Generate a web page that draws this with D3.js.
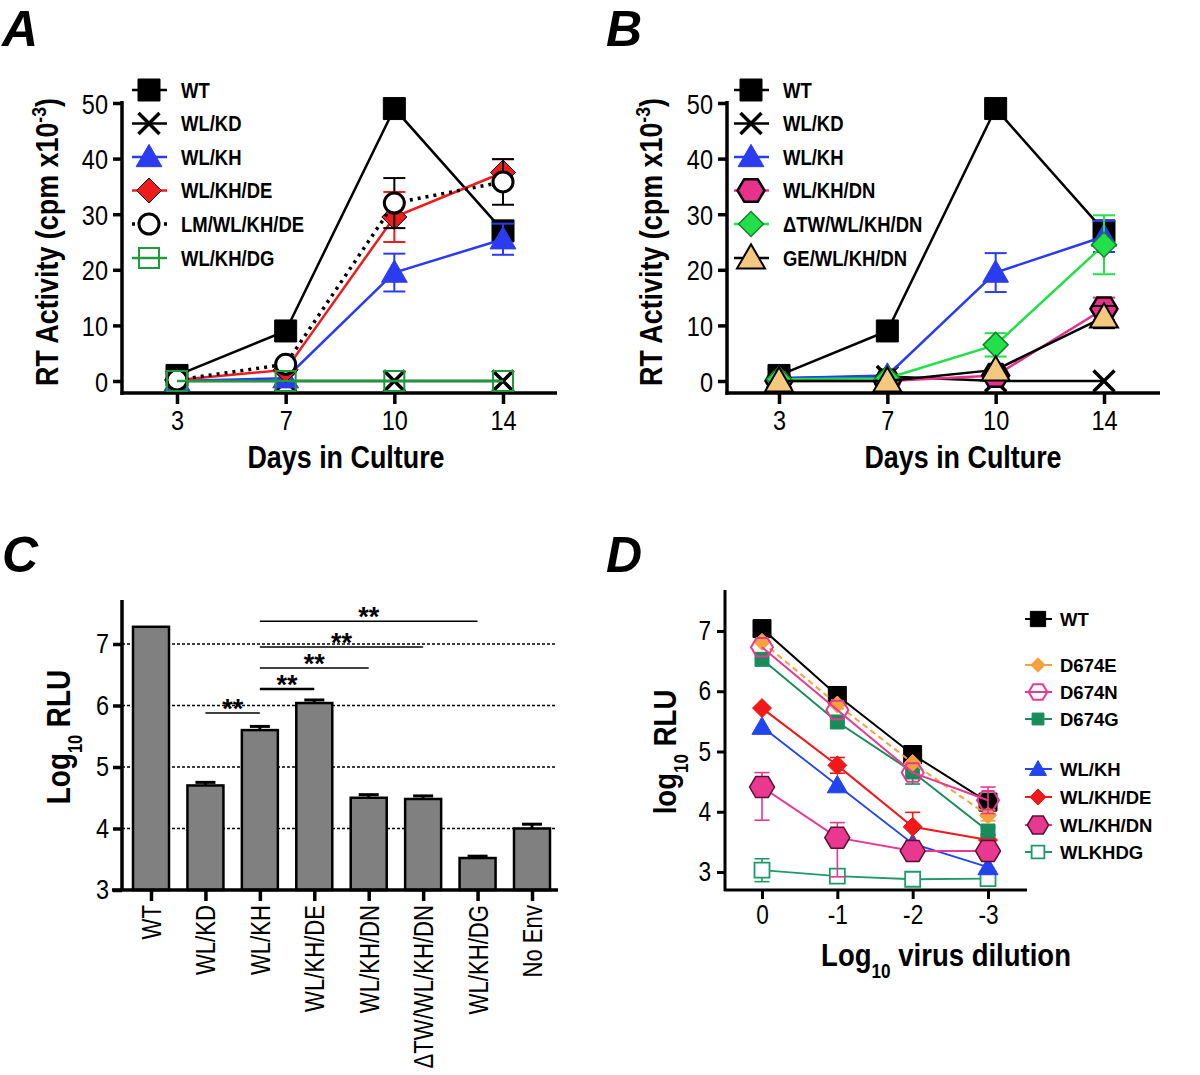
<!DOCTYPE html>
<html><head><meta charset="utf-8">
<script src="https://cdn.jsdelivr.net/npm/d3@7"></script>
<style>body{margin:0;background:#fff}</style>
</head><body>
<svg id="c" width="1200" height="1075" xmlns="http://www.w3.org/2000/svg"></svg>
<script>
// ---------- DATA ----------
// Panel A / B : RT activity (cpm x10^-3) vs days in culture
const days = ["3", "7", "10", "14"];
const aWT   = [1, 9, 49, 27];
const aWLKD = [0, 0, 0, 0];
const aWLKH = [0, 0.5, 19.5, 25.5];
const aWLKHerr = [0, 0, 3.4, 2.8];
const aDE   = [0.2, 2, 29.5, 37.5];
const aDEerr = [0, 0, 4.5, 2.4];
const aLM   = [0.2, 3, 32, 35.8];
const aLMerr = [0, 0, 4.5, 4.1];
const aDG   = [0, 0, 0, 0];

const bWT   = [1, 9, 49, 27];
const bWLKD = [0.5, 0.8, 0, 0];
const bWLKH = [0.5, 1, 19.5, 26];
const bWLKHerr = [0, 0, 3.5, 2.8];
const bDN   = [0, 0, 1, 13];
const bDNerr = [0, 0, 0, 2];
const bTW   = [0.3, 0.5, 6.5, 24.5];
const bTWerr = [0, 0, 2.1, 5.3];
const bGE   = [0, 0, 2, 11.5];
const bGEerr = [0, 0, 0, 2];

// Panel C : Log10 RLU bars
const cCats = ["WT", "WL/KD", "WL/KH", "WL/KH/DE", "WL/KH/DN", "\u0394TW/WL/KH/DN", "WL/KH/DG", "No Env"];
const cVals = [7.28, 4.70, 5.60, 6.04, 4.50, 4.48, 3.52, 4.00];
const cErrs = [0.0, 0.05, 0.06, 0.05, 0.05, 0.05, 0.03, 0.07];
const cYTicks = [3, 4, 5, 6, 7];
const cGrid = [4, 5, 6, 7];
// significance brackets: [from, to, level]
const cSig = [
  ["WL/KD", "WL/KH", 5.88],
  ["WL/KH", "WL/KH/DE", 6.27],
  ["WL/KH", "WL/KH/DN", 6.61],
  ["WL/KH", "\u0394TW/WL/KH/DN", 6.95],
  ["WL/KH", "WL/KH/DG", 7.37]
];

// Panel D : log10 RLU vs log10 virus dilution
const dil = ["0", "-1", "-2", "-3"];
const dWT  = [7.04, 5.93, 4.95, 4.16];
const dE   = [6.82, 5.78, 4.81, 3.94];
const dEerr = [0, 0, 0, 0.09];
const dN   = [6.73, 5.69, 4.65, 4.19];
const dNerr = [0, 0, 0, 0.22];
const dG   = [6.53, 5.49, 4.66, 3.68];
const dGerr = [0, 0, 0.2, 0.06];
const dKH  = [5.41, 4.44, 3.47, 3.08];
const dDE  = [5.72, 4.77, 3.75, 3.53];
const dDEerr = [0, 0.13, 0.24, 0.08];
const dDN  = [4.41, 3.57, 3.35, 3.35];
const dDNhi = [0.24, 0.25, 0.1, 0];
const dDNlo = [0.55, 0.65, 0.16, 0];
const dDG  = [3.03, 2.93, 2.88, 2.89];
const dDGerr = [0.19, 0, 0, 0];
const dYTicks = [3, 4, 5, 6, 7];

// ---------- HELPERS ----------
const svg = d3.select("#c");
const SANS = "'Liberation Sans',Arial,Helvetica,sans-serif";
const NS = 0.84; // horizontal condensing to imitate a narrow typeface

function shapePath(type, s) {
  const h = s / 2;
  switch (type) {
    case "square": return `M${-h},${-h}h${s}v${s}h${-s}Z`;
    case "triangle": return `M0,${-s*0.55}L${s*0.56},${s*0.42}L${-s*0.56},${s*0.42}Z`;
    case "diamond": return `M0,${-h}L${h},0L0,${h}L${-h},0Z`;
    case "hexagon": { const hh = s*0.42; return `M${-h},0L${-h/2},${-hh}L${h/2},${-hh}L${h},0L${h/2},${hh}L${-h/2},${hh}Z`; }
    case "cross": return `M${-h},${-h}L${h},${h}M${-h},${h}L${h},${-h}`;
    case "circle": return `M${-h},0A${h},${h} 0 1,0 ${h},0A${h},${h} 0 1,0 ${-h},0Z`;
  }
}
function drawMarker(g, x, y, m) {
  g.append("path").attr("transform", `translate(${x},${y})`)
    .attr("d", shapePath(m.shape, m.size))
    .attr("fill", m.shape === "cross" ? "none" : m.fill)
    .attr("stroke", m.stroke).attr("stroke-width", m.sw)
    .attr("stroke-linejoin", "miter");
}

function drawSeries(g, x, y, s, capW) {
  const line = d3.line().x((d, i) => x(s.cats[i])).y(d => y(d));
  g.append("path").datum(s.vals).attr("d", line)
    .attr("fill", "none").attr("stroke", s.line).attr("stroke-width", s.lw)
    .attr("stroke-dasharray", s.dash || null);
  if (s.err || s.errHi) {
    s.vals.forEach((v, i) => {
      const hi = s.errHi ? s.errHi[i] : s.err[i];
      const lo = s.errLo ? s.errLo[i] : s.err[i];
      if (!hi && !lo) return;
      const cx = x(s.cats[i]);
      const eg = g.append("g").attr("stroke", s.errColor || s.line).attr("stroke-width", s.ew || 2);
      eg.append("line").attr("x1", cx).attr("x2", cx).attr("y1", y(v + hi)).attr("y2", y(v - lo));
      eg.append("line").attr("x1", cx - capW/2).attr("x2", cx + capW/2).attr("y1", y(v + hi)).attr("y2", y(v + hi));
      eg.append("line").attr("x1", cx - capW/2).attr("x2", cx + capW/2).attr("y1", y(v - lo)).attr("y2", y(v - lo));
    });
  }
  s.vals.forEach((v, i) => drawMarker(g, x(s.cats[i]), y(v), s.marker));
}

function styleAxis(gAxis, fontSize, left) {
  gAxis.select(".domain").remove();
  gAxis.selectAll(".tick line").attr("stroke", "#000").attr("stroke-width", 3.5);
  const t = gAxis.selectAll(".tick text").attr("font-family", SANS).attr("font-size", fontSize).attr("fill", "#000");
  if (left) {
    t.each(function () { const el = d3.select(this); el.attr("x", +el.attr("x") / NS); });
  }
  t.attr("transform", `scale(${NS},1)`);
}

// text condensed horizontally, positioned at (x,y) with optional rotation
function cText(g, x, y, opts) {
  const t = g.append("text")
    .attr("transform", `translate(${x},${y})${opts.rot ? ` rotate(${opts.rot})` : ""} scale(${opts.sx || NS},1)`)
    .attr("text-anchor", opts.anchor || "start")
    .attr("font-family", SANS).attr("font-weight", opts.weight || "bold")
    .attr("font-size", opts.size).attr("fill", "#000");
  if (opts.dy) t.attr("dy", opts.dy);
  return t;
}

function panelLetter(txt, x, y) {
  svg.append("text").attr("x", x).attr("y", y).text(txt)
    .attr("font-family", SANS).attr("font-weight", "bold").attr("font-style", "italic")
    .attr("font-size", 50).attr("fill", "#000");
}

// ---------- PANEL A & B ----------
function linePanel(cfg) {
  const g = svg.append("g");
  const x = d3.scalePoint().domain(days).range(cfg.xr);
  const y = d3.scaleLinear().domain([0, 50]).range([381, 103]);
  const yAx = g.append("g").attr("transform", `translate(${cfg.ax},0)`)
    .call(d3.axisLeft(y).tickValues([0, 10, 20, 30, 40, 50]).tickSize(9).tickPadding(5).tickFormat(d3.format("d")));
  styleAxis(yAx, 28, true);
  yAx.selectAll(".tick text").attr("dy", "0.36em");
  const xAx = g.append("g").attr("transform", `translate(0,393)`)
    .call(d3.axisBottom(x).tickSize(11).tickPadding(6));
  styleAxis(xAx, 28, false);
  g.append("line").attr("x1", cfg.ax).attr("x2", cfg.ax).attr("y1", 101).attr("y2", 395)
    .attr("stroke", "#000").attr("stroke-width", 3.5);
  g.append("line").attr("x1", cfg.ax - 1.5).attr("x2", cfg.xend).attr("y1", 393).attr("y2", 393)
    .attr("stroke", "#000").attr("stroke-width", 3.5);

  cfg.series.forEach(s => drawSeries(g, x, y, Object.assign({cats: days}, s), 22));

  // legend
  const rows = [90, 123.5, 157, 190.5, 224, 258];
  cfg.series.forEach((s, i) => {
    const lg = g.append("g");
    const ly = rows[i];
    lg.append("line").attr("x1", cfg.lx - 17).attr("x2", cfg.lx + 18).attr("y1", ly).attr("y2", ly)
      .attr("stroke", s.line).attr("stroke-width", s.lw).attr("stroke-dasharray", s.dash || null);
    drawMarker(lg, cfg.lx, ly, s.marker);
    cText(lg, cfg.tx, ly, {size: 22, dy: "0.36em"}).text(s.name);
  });

  // axis titles
  const yt = cText(g, cfg.ytx, 242, {rot: -90, anchor: "middle", size: 32});
  yt.append("tspan").text("RT Activity (cpm x10");
  yt.append("tspan").attr("baseline-shift", "super").attr("font-size", 21).text("-3");
  yt.append("tspan").text(")");
  cText(g, cfg.xtx, 468, {anchor: "middle", size: 32}).text("Days in Culture");
}

const blue = "#2b3cf0", red = "#ee1c1c";
linePanel({
  xr: [177, 503], ax: 122, xend: 557, lx: 149, tx: 181, ytx: 58, xtx: 346,
  series: [
    {name: "WT", vals: aWT, line: "#000", lw: 2.5, marker: {shape: "square", size: 22, fill: "#000", stroke: "#000", sw: 1}},
    {name: "WL/KD", vals: aWLKD, line: "#000", lw: 2.5, marker: {shape: "cross", size: 21, fill: "none", stroke: "#000", sw: 3.5}},
    {name: "WL/KH", vals: aWLKH, err: aWLKHerr, line: blue, lw: 2.5, marker: {shape: "triangle", size: 23, fill: blue, stroke: blue, sw: 1}},
    {name: "WL/KH/DE", vals: aDE, err: aDEerr, line: red, lw: 2.5, marker: {shape: "diamond", size: 25, fill: red, stroke: "#000", sw: 1}},
    {name: "LM/WL/KH/DE", vals: aLM, err: aLMerr, line: "#000", lw: 3.5, dash: "3,5", errColor: "#000", marker: {shape: "circle", size: 20, fill: "#fff", stroke: "#000", sw: 3}},
    {name: "WL/KH/DG", vals: aDG, line: "#1e9a3c", lw: 2.5, marker: {shape: "square", size: 20, fill: "none", stroke: "#1e9a3c", sw: 2}}
  ]
});
linePanel({
  xr: [779, 1104], ax: 727, xend: 1160, lx: 751, tx: 783, ytx: 662, xtx: 963,
  series: [
    {name: "WT", vals: bWT, line: "#000", lw: 2.5, marker: {shape: "square", size: 22, fill: "#000", stroke: "#000", sw: 1}},
    {name: "WL/KD", vals: bWLKD, line: "#000", lw: 2.5, marker: {shape: "cross", size: 21, fill: "none", stroke: "#000", sw: 3.5}},
    {name: "WL/KH", vals: bWLKH, err: bWLKHerr, line: blue, lw: 2.5, marker: {shape: "triangle", size: 23, fill: blue, stroke: blue, sw: 1}},
    {name: "WL/KH/DN", vals: bDN, err: bDNerr, line: "#e8318a", lw: 2.5, marker: {shape: "hexagon", size: 27, fill: "#e8318a", stroke: "#000", sw: 2.5}},
    {name: "\u0394TW/WL/KH/DN", vals: bTW, err: bTWerr, line: "#22e04a", lw: 2.5, marker: {shape: "diamond", size: 25, fill: "#22e04a", stroke: "#17802c", sw: 1.5}},
    {name: "GE/WL/KH/DN", vals: bGE, err: bGEerr, line: "#000", lw: 2.5, marker: {shape: "triangle", size: 25, fill: "#f5c880", stroke: "#000", sw: 2}}
  ]
});

// ---------- PANEL C ----------
(function () {
  const g = svg.append("g");
  const x = d3.scalePoint().domain(cCats).range([151, 532]);
  const y = d3.scaleLinear().domain([3, 7]).range([890, 644]);
  const bw = 36;
  g.selectAll("line.grid").data(cGrid).enter().append("line")
    .attr("x1", 122).attr("x2", 557).attr("y1", d => y(d)).attr("y2", d => y(d))
    .attr("stroke", "#000").attr("stroke-width", 1.4).attr("stroke-dasharray", "3,2");
  g.selectAll("rect.bar").data(cCats).enter().append("rect")
    .attr("x", d => x(d) - bw/2).attr("width", bw)
    .attr("y", (d, i) => y(cVals[i])).attr("height", (d, i) => y(3) - y(cVals[i]))
    .attr("fill", "#808080").attr("stroke", "#000").attr("stroke-width", 2.5);
  cCats.forEach((c, i) => {
    if (!cErrs[i]) return;
    const cx = x(c), yt = y(cVals[i] + cErrs[i]);
    g.append("line").attr("x1", cx).attr("x2", cx).attr("y1", yt).attr("y2", y(cVals[i])).attr("stroke", "#000").attr("stroke-width", 3);
    g.append("line").attr("x1", cx - 10).attr("x2", cx + 10).attr("y1", yt).attr("y2", yt).attr("stroke", "#000").attr("stroke-width", 3);
  });
  const yAx = g.append("g").attr("transform", "translate(122,0)")
    .call(d3.axisLeft(y).tickValues(cYTicks).tickSize(9).tickPadding(4).tickFormat(d3.format("d")));
  styleAxis(yAx, 28, true);
  const xAx = g.append("g").attr("transform", "translate(0,890)")
    .call(d3.axisBottom(x).tickSize(11).tickPadding(0));
  styleAxis(xAx, 27, false);
  xAx.selectAll(".tick text").attr("transform", `translate(0,15) rotate(-90) scale(${NS - 0.02},1)`)
    .attr("text-anchor", "end").attr("dy", "0.35em").attr("y", 0).attr("x", 0);
  g.append("line").attr("x1", 122).attr("x2", 122).attr("y1", 600).attr("y2", 891).attr("stroke", "#000").attr("stroke-width", 3.5);
  g.append("line").attr("x1", 112).attr("x2", 558).attr("y1", 890).attr("y2", 890).attr("stroke", "#000").attr("stroke-width", 3.5);
  cSig.forEach((s, i) => {
    const x1 = x(s[0]), x2 = x(s[1]), yy = y(s[2]);
    g.append("line").attr("x1", x1).attr("x2", x2).attr("y1", yy).attr("y2", yy)
      .attr("stroke", "#000").attr("stroke-width", i === 1 ? 2.5 : 1.5);
    g.append("text").attr("x", (x1 + x2) / 2).attr("y", yy + 5).attr("text-anchor", "middle")
      .attr("font-family", SANS).attr("font-weight", "bold").attr("font-size", 27).text("**");
  });
  const yt = cText(g, 70, 737, {rot: -90, anchor: "middle", size: 34, sx: 0.82});
  yt.append("tspan").text("Log");
  yt.append("tspan").attr("baseline-shift", "sub").attr("font-size", 20).text("10");
  yt.append("tspan").text(" RLU");
})();

// ---------- PANEL D ----------
(function () {
  const g = svg.append("g");
  const x = d3.scalePoint().domain(dil).range([762, 988]);
  const y = d3.scaleLinear().domain([3, 7]).range([872, 631]);
  const yAx = g.append("g").attr("transform", "translate(725,0)")
    .call(d3.axisLeft(y).tickValues(dYTicks).tickSize(8).tickPadding(6).tickFormat(d3.format("d")));
  styleAxis(yAx, 27, true);
  const xAx = g.append("g").attr("transform", "translate(0,890)")
    .call(d3.axisBottom(x).tickSize(9).tickPadding(6));
  styleAxis(xAx, 27, false);
  xAx.selectAll(".tick line").attr("stroke-width", 3);
  yAx.selectAll(".tick line").attr("stroke-width", 3);
  g.append("line").attr("x1", 725).attr("x2", 725).attr("y1", 590).attr("y2", 891).attr("stroke", "#000").attr("stroke-width", 3);
  g.append("line").attr("x1", 724).attr("x2", 1027).attr("y1", 890).attr("y2", 890).attr("stroke", "#000").attr("stroke-width", 3);

  const series = [
    {name: "WT", vals: dWT, line: "#000", lw: 2, ly: 619, marker: {shape: "square", size: 18, fill: "#000", stroke: "#000", sw: 1}},
    {name: "D674E", vals: dE, err: dEerr, line: "#f7a03c", lw: 2, dash: "6,4", ly: 665, marker: {shape: "diamond", size: 17, fill: "#f7a03c", stroke: "#f7a03c", sw: 1}},
    {name: "D674N", vals: dN, err: dNerr, line: "#e8388f", lw: 2, ly: 692, marker: {shape: "hexagon", size: 22, fill: "none", stroke: "#e8388f", sw: 2}},
    {name: "D674G", vals: dG, err: dGerr, line: "#1a8c5c", lw: 2, ly: 719, marker: {shape: "square", size: 14, fill: "#1a8c5c", stroke: "#1a8c5c", sw: 1}},
    {name: "WL/KH", vals: dKH, line: "#2244ee", lw: 1.8, ly: 769, marker: {shape: "triangle", size: 18, fill: "#2244ee", stroke: "#2244ee", sw: 1}},
    {name: "WL/KH/DE", vals: dDE, err: dDEerr, line: "#f01818", lw: 2, ly: 797, marker: {shape: "diamond", size: 19, fill: "#f01818", stroke: "#f01818", sw: 1}},
    {name: "WL/KH/DN", vals: dDN, errHi: dDNhi, errLo: dDNlo, line: "#e8388f", lw: 2, ly: 825, marker: {shape: "hexagon", size: 25, fill: "#e8388f", stroke: "#5a1030", sw: 1.5}},
    {name: "WLKHDG", vals: dDG, err: dDGerr, line: "#1e9a6a", lw: 1.8, ly: 852, marker: {shape: "square", size: 15, fill: "#fff", stroke: "#1e9a6a", sw: 1.8}}
  ];
  const order = [7, 4, 5, 6, 3, 0, 1, 2];
  order.forEach(i => drawSeries(g, x, y, Object.assign({cats: dil, ew: 1.6}, series[i]), 15));
  series.forEach(s => {
    const lg = g.append("g");
    lg.append("line").attr("x1", 1025).attr("x2", 1052).attr("y1", s.ly).attr("y2", s.ly)
      .attr("stroke", s.line).attr("stroke-width", 2);
    drawMarker(lg, 1038, s.ly, Object.assign({}, s.marker, {size: s.marker.size * 0.85}));
    lg.append("text").attr("x", 1060).attr("y", s.ly).attr("dy", "0.36em").text(s.name)
      .attr("font-family", SANS).attr("font-weight", "bold").attr("font-size", 18.5).attr("fill", "#000");
  });
  const yt = cText(g, 676, 752, {rot: -90, anchor: "middle", size: 32, sx: 0.86});
  yt.append("tspan").text("log");
  yt.append("tspan").attr("baseline-shift", "sub").attr("font-size", 20).text("10");
  yt.append("tspan").text(" RLU");
  const xt = cText(g, 946, 966, {anchor: "middle", size: 32, sx: 0.86});
  xt.append("tspan").text("Log");
  xt.append("tspan").attr("baseline-shift", "sub").attr("font-size", 20).text("10");
  xt.append("tspan").text(" virus dilution");
})();

panelLetter("A", 2, 46);
panelLetter("B", 606, 46);
panelLetter("C", 2, 572);
panelLetter("D", 606, 572);
</script>
</body></html>
